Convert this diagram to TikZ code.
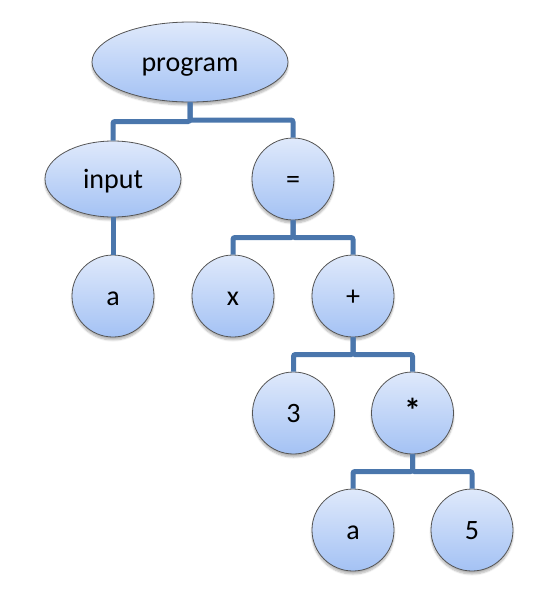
\documentclass[tikz,border=0pt]{standalone}
\usepackage{fontspec}
\setmainfont{Carlito}
\usetikzlibrary{shapes.geometric,shadows.blur,calc}
\definecolor{conn}{RGB}{74,118,172}
\definecolor{nodetop}{RGB}{223,233,251}
\definecolor{nodebot}{RGB}{164,194,244}
\definecolor{nodeline}{RGB}{85,85,85}
\tikzset{
  astnode/.style={draw=nodeline, line width=0.8pt, top color=nodetop, bottom color=nodebot,
    inner sep=0pt, font=\fontsize{28}{32}\selectfont, text height=19pt, text depth=0pt,
    blur shadow={shadow xshift=0pt, shadow yshift=-3pt, shadow blur steps=6, shadow opacity=30}},
  astcircle/.style={astnode, circle, minimum size=82pt},
  astoval/.style={astnode, ellipse, minimum width=#1, minimum height=78pt},
}
\begin{document}
\begin{tikzpicture}[level distance=117pt,
  level 1/.style={sibling distance=180pt},
  level 2/.style={sibling distance=120pt},
  level 3/.style={sibling distance=119pt},
  level 4/.style={sibling distance=119pt},
  edge from parent/.style={draw=conn, line width=5pt, rounded corners=2pt},
  edge from parent path={(\tikzparentnode.south) |- ($(\tikzparentnode.south)!.5!(\tikzchildnode.north)$) -| (\tikzchildnode.north)}]
  \useasboundingbox (0,0) rectangle (535pt,-603pt);
  \node[astoval=196pt, minimum height=80pt] (prog) at (190pt,-62pt) {program}
    child[xshift=13pt] {node[astoval=136pt, minimum height=76pt] (inp) {input}
      child {node[astcircle] (inpa) {a}}
    }
    child[xshift=13pt] {node[astcircle] (eq) {=}
      child {node[astcircle] (x) {x}}
      child {node[astcircle] (plus) {+}
        child {node[astcircle] (three) {3}}
        child {node[astcircle, font=\fontsize{34}{36}\bfseries] (times) {*}
          child {node[astcircle] (a) {a}}
          child {node[astcircle] (five) {5}}
        }
      }
    };
\end{tikzpicture}
\end{document}
